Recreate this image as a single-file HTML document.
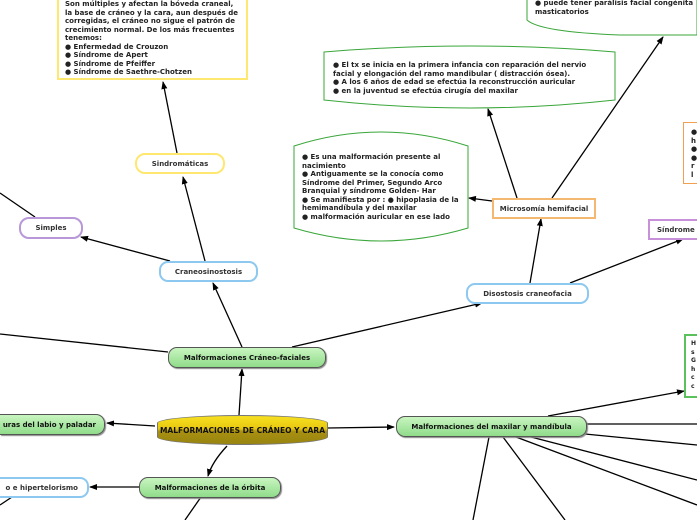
<!DOCTYPE html>
<html><head><meta charset="utf-8"><style>
html,body{margin:0;padding:0;background:#fff;}
body{width:697px;height:520px;position:relative;overflow:hidden;font-family:"DejaVu Sans","Liberation Sans",sans-serif;}
.b{position:absolute;box-sizing:border-box;font-weight:bold;font-size:7px;color:#333;display:flex;align-items:center;justify-content:center;white-space:nowrap;overflow:hidden;}
.t{position:absolute;font-weight:bold;font-size:7px;line-height:8.5px;color:#222;white-space:nowrap;}
.g{background:linear-gradient(#c8f5c0,#8fdc8a);border:1px solid #555;border-radius:9px;color:#111;box-shadow:1px 1px 1px #888;}
.bl{background:#fff;border:2px solid #8cc8ef;border-radius:9px;}
</style></head><body>
<svg width="697" height="520" style="position:absolute;left:0;top:0">
<defs><marker id="a" markerWidth="8" markerHeight="8" refX="7" refY="4" orient="auto" markerUnits="userSpaceOnUse"><path d="M0,1 L8,4 L0,7z" fill="#000"/></marker></defs>
<g stroke="#000" stroke-width="1.3" fill="none">
<path d="M239,415 L242,369" marker-end="url(#a)"/>
<path d="M328,428 L394,427" marker-end="url(#a)"/>
<path d="M155,426 L107,423" marker-end="url(#a)"/>
<path d="M227,446 Q212,462 208,476" marker-end="url(#a)"/>
<path d="M242,347 L213,283" marker-end="url(#a)"/>
<path d="M292,347 L482,303" marker-end="url(#a)"/>
<path d="M168,352 L0,334"/>
<path d="M205,261 L183,177" marker-end="url(#a)"/>
<path d="M170,261 L81,237" marker-end="url(#a)"/>
<path d="M177,153 L163,82" marker-end="url(#a)"/>
<path d="M35,217 L0,193"/>
<path d="M530,283 L541,219" marker-end="url(#a)"/>
<path d="M570,283 L683,239" marker-end="url(#a)"/>
<path d="M517,198 L488,109" marker-end="url(#a)"/>
<path d="M552,198 L663,37" marker-end="url(#a)"/>
<path d="M492,201 L469,198" marker-end="url(#a)"/>
<path d="M548,416 L684,391" marker-end="url(#a)"/>
<path d="M586,424 L697,424"/>
<path d="M585,434 L697,445"/>
<path d="M531,437 L697,480"/>
<path d="M516,437 L697,505"/>
<path d="M503,437 L565,520"/>
<path d="M489,437 L473,520"/>
<path d="M139,487 L90,487" marker-end="url(#a)"/>
<path d="M201,497 L185,520"/>
<path d="M12,497 L0,505"/>
</g>
<path d="M324,52 Q470,40 615,52 L615,100 Q470,116 324,100 Z" fill="#fff" stroke="#3aa63a" stroke-width="1"/>
<path d="M294,146 Q381,118 468,146 L468,228 Q381,254 294,228 Z" fill="#fff" stroke="#3aa63a" stroke-width="1"/>
<path d="M527,-5 L527,20 Q540,32 620,35 L697,35 L697,-5 Z" fill="#fff" stroke="#3aa63a" stroke-width="1"/>
</svg>

<div style="position:absolute;left:57px;top:0;width:191px;height:80px;border:2px solid #ffe870;border-top:none;box-sizing:border-box;background:#fff"></div>
<div class="t" style="left:65px;top:0px">Son múltiples y afectan la bóveda craneal,<br>la base de cráneo y la cara, aun después de<br>corregidas, el cráneo no sigue el patrón de<br>crecimiento normal. De los más frecuentes<br>tenemos:<br>● Enfermedad de Crouzon<br>● Síndrome de Apert<br>● Síndrome de Pfeiffer<br>● Síndrome de Saethre-Chotzen</div>

<div class="t" style="left:535px;top:-1px">● puede tener parálisis facial congénita<br>masticatorios</div>
<div class="t" style="left:333px;top:61px">● El tx se inicia en la primera infancia con reparación del nervio<br>facial y elongación del ramo mandibular ( distracción ósea).<br>● A los 6 años de edad se efectúa la reconstrucción auricular<br>● en la juventud se efectúa cirugía del maxilar</div>
<div class="t" style="left:302px;top:153px">● Es una malformación presente al<br>nacimiento<br>● Antiguamente se la conocía como<br>Síndrome del Primer, Segundo Arco<br>Branquial y síndrome Golden- Har<br>● Se manifiesta por : ● hipoplasia de la<br>hemimandíbula y del maxilar<br>● malformación auricular en ese lado</div>

<div style="position:absolute;left:683px;top:122px;width:14px;height:62px;border:1px solid #f0a050;border-right:none;background:#fff;box-sizing:border-box"></div>
<div class="t" style="left:691px;top:128px;width:6px;overflow:hidden">●<br>h<br>●<br>●<br>r<br>l</div>
<div class="b" style="left:492px;top:198px;width:104px;height:21px;border:2px solid #f5b870;background:#fff">Microsomía hemifacial</div>
<div class="b" style="left:648px;top:219px;width:49px;height:21px;border:2px solid #c890d8;border-right:none;background:#fff;justify-content:flex-start;padding-left:7px">Síndrome d</div>
<div style="position:absolute;left:684px;top:334px;width:13px;height:64px;border:2px solid #5cc05c;border-right:none;background:#fff;box-sizing:border-box"></div>
<div class="t" style="left:691px;top:340px;font-size:6px;line-height:8.6px">H<br>s<br>G<br>h<br>c<br>c</div>

<div class="b" style="left:135px;top:153px;width:90px;height:21px;border:2px solid #ffe870;border-radius:10px;background:#fff">Sindromáticas</div>
<div class="b" style="left:19px;top:217px;width:64px;height:22px;border:2px solid #b898d8;border-radius:10px;background:#fff">Simples</div>
<div class="b bl" style="left:159px;top:261px;width:99px;height:21px">Craneosinostosis</div>
<div class="b bl" style="left:466px;top:283px;width:123px;height:21px">Disostosis craneofacia</div>
<div class="b g" style="left:168px;top:347px;width:158px;height:21px">Malformaciones Cráneo-faciales</div>
<div class="b" style="left:157px;top:415px;width:171px;height:30px;border:1px solid #777;border-radius:50%/8px;background:linear-gradient(#f8e020 0%,#e8c810 45%,#a89010 55%,#988510 100%);color:#111;font-size:7.5px">MALFORMACIONES DE CRÁNEO Y CARA</div>
<div class="b g" style="left:0;top:414px;width:105px;height:21px;border-left:none;border-radius:0 9px 9px 0;justify-content:flex-end;padding-right:8px">uras del labio y paladar</div>
<div class="b g" style="left:396px;top:416px;width:191px;height:21px">Malformaciones del maxilar y mandíbula</div>
<div class="b g" style="left:139px;top:477px;width:142px;height:21px">Malformaciones de la órbita</div>
<div class="b bl" style="left:0;top:477px;width:89px;height:21px;border-left:none;border-radius:0 9px 9px 0;justify-content:flex-end;padding-right:9px">o e hipertelorismo</div>
</body></html>
